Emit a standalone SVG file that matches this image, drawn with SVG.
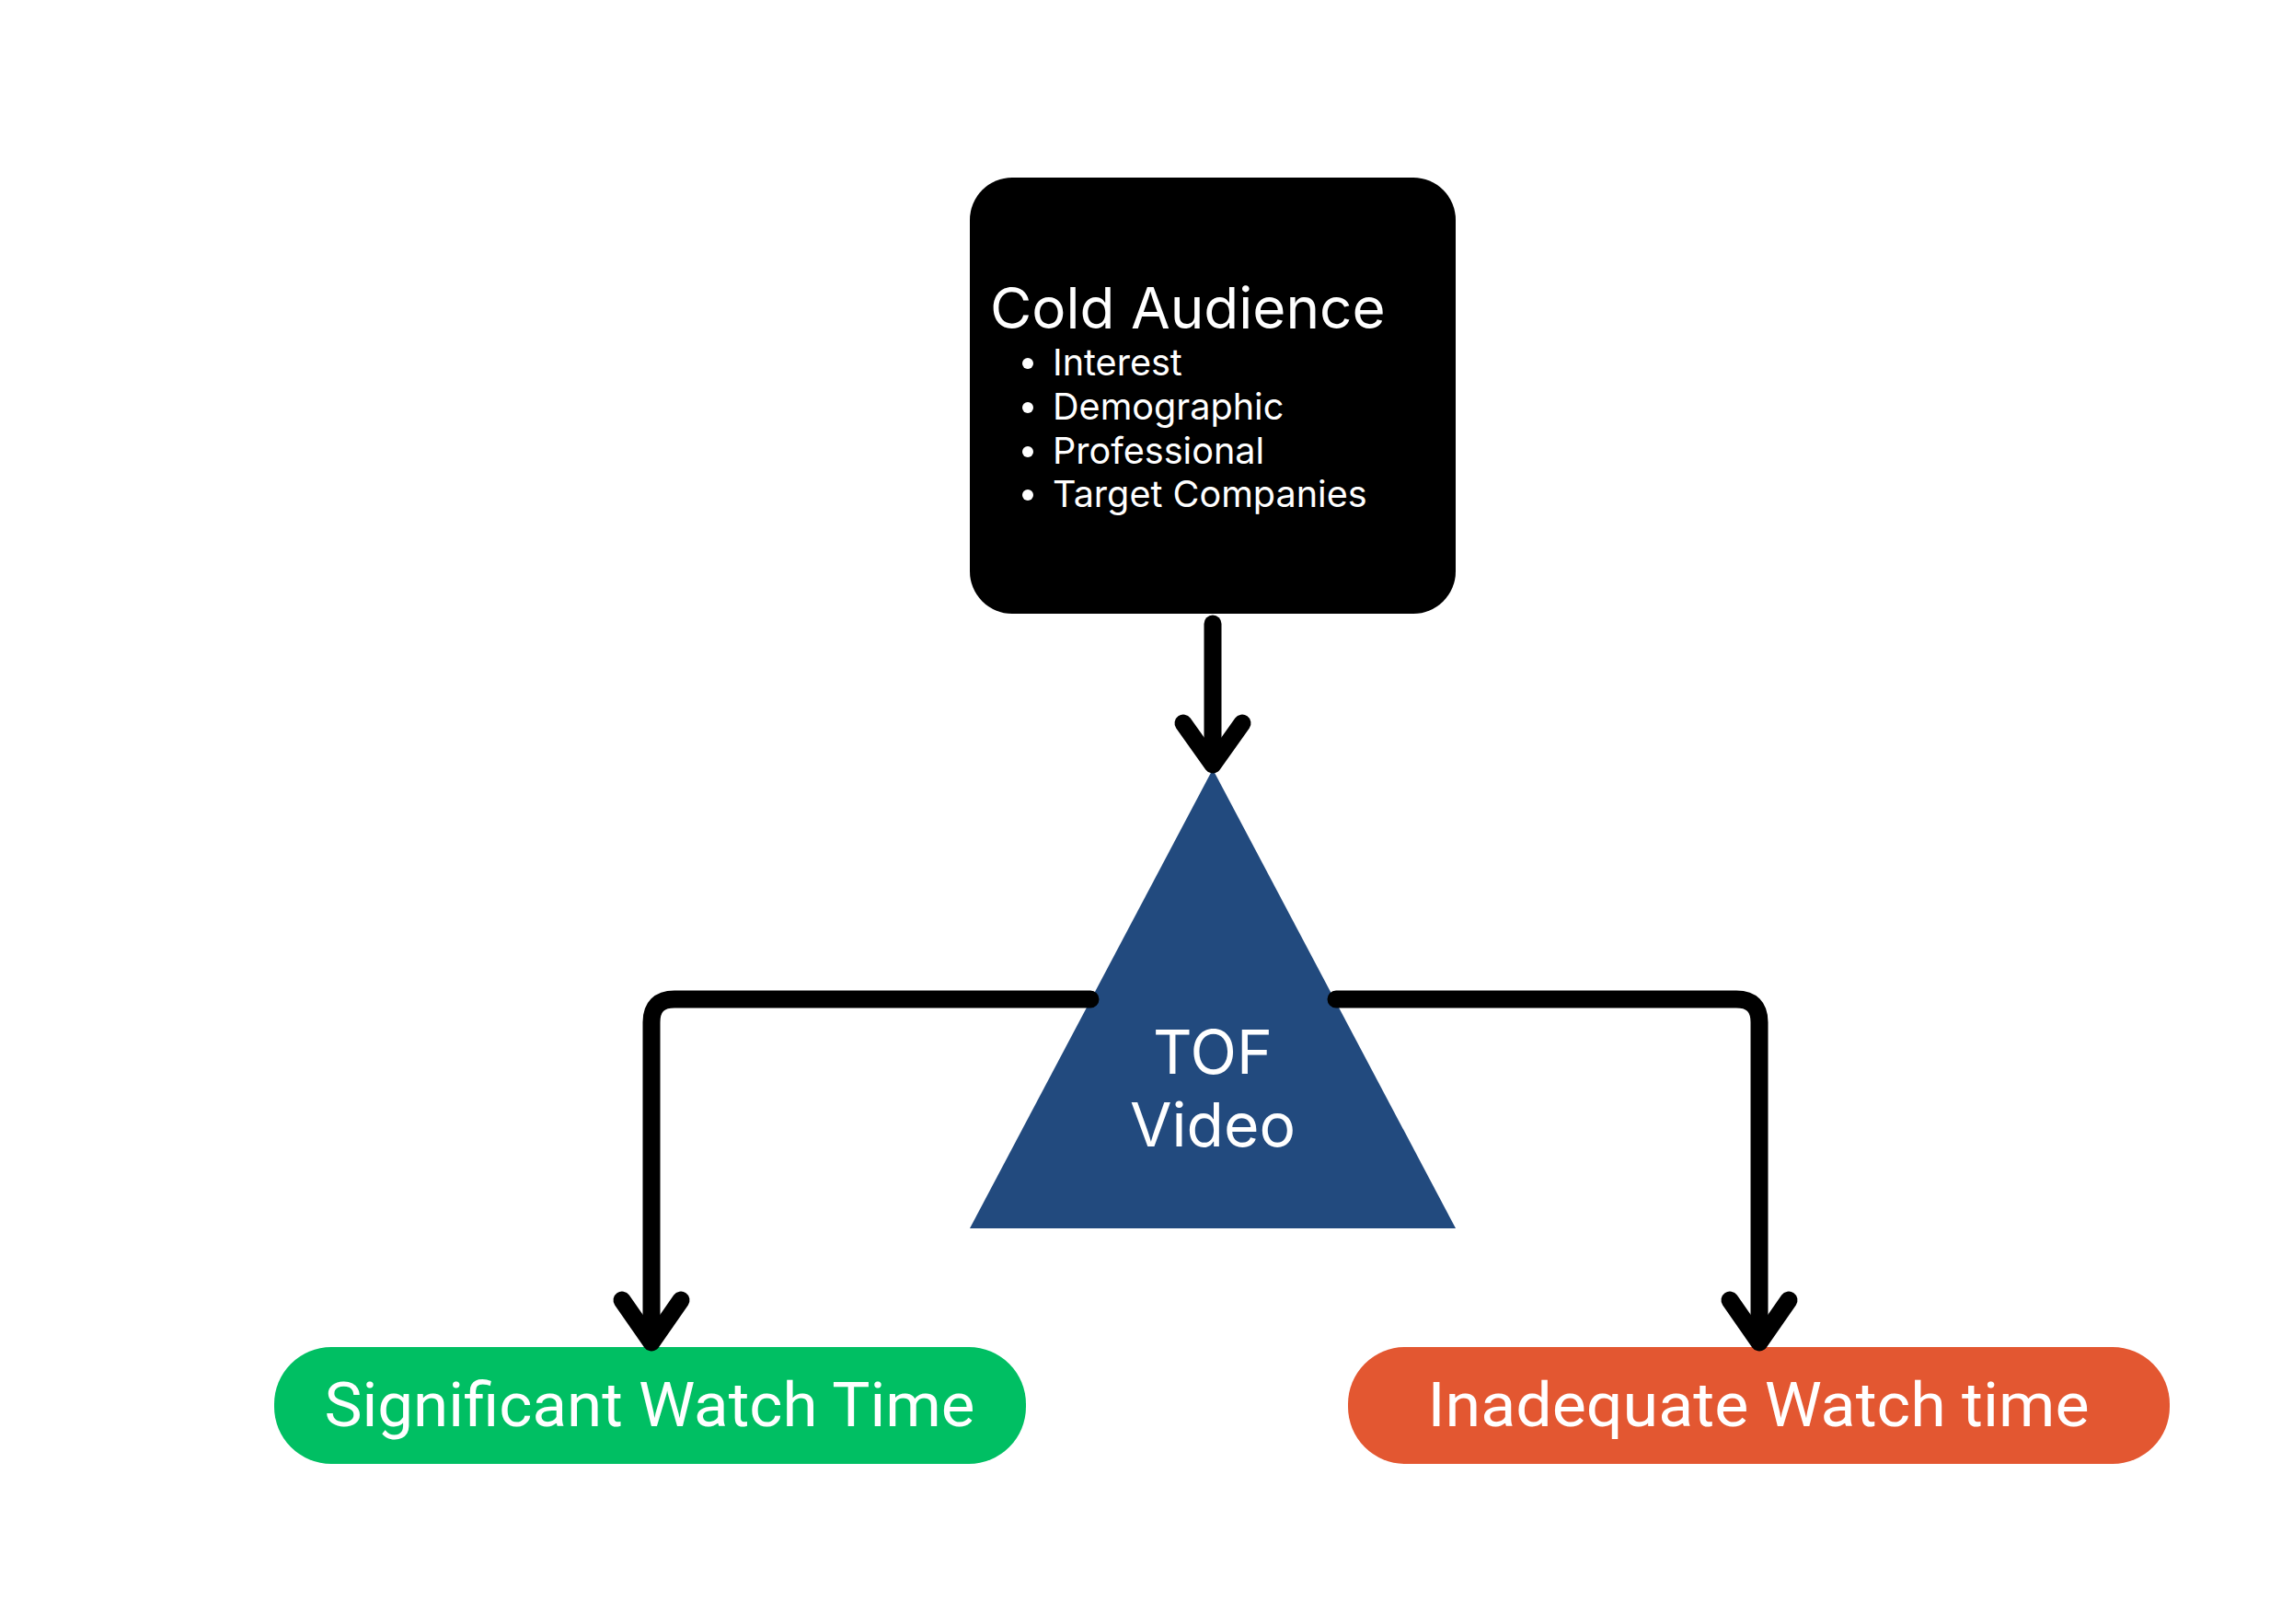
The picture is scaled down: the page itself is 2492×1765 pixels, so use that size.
<svg xmlns="http://www.w3.org/2000/svg" width="2492" height="1765" viewBox="0 0 2492 1765">
<style>
.wt{fill:#ffffff;font-family:Inter,"Liberation Sans",sans-serif}
.lbl{fill:#ffffff;font-family:Roboto,"Liberation Sans",sans-serif;font-size:67px;text-anchor:middle}
.conn{fill:none;stroke:#000000;stroke-width:19;stroke-linecap:round;stroke-linejoin:round}
</style>
<rect width="2492" height="1765" fill="#ffffff"/>
<g id="cold-audience">
<rect x="1054" y="193" width="528" height="474" rx="46" fill="#000000"/>
<text class="wt" x="1076" y="357" font-size="62">Cold Audience</text>
<g class="wt" font-size="39.6">
<circle cx="1117" cy="395" r="6" fill="#ffffff"/>
<text x="1144" y="408">Interest</text>
<circle cx="1117" cy="443" r="6" fill="#ffffff"/>
<text x="1144" y="456">Demographic</text>
<circle cx="1117" cy="491" r="6" fill="#ffffff"/>
<text x="1144" y="504">Professional</text>
<circle cx="1117" cy="538" r="6" fill="#ffffff"/>
<text x="1144" y="551">Target Companies</text>
</g>
</g>
<g id="tof-video">
<polygon points="1318,836 1582,1335 1054,1335" fill="#224A7E"/>
<text class="wt" x="1318" y="1167" font-size="66" text-anchor="middle">TOF</text>
<text class="wt" x="1318" y="1246" font-size="66" text-anchor="middle">Video</text>
</g>
<g id="significant">
<rect x="298" y="1464" width="817" height="127" rx="62" fill="#00BF63"/>
<text class="lbl" x="706" y="1550" textLength="707" lengthAdjust="spacingAndGlyphs">Significant Watch Time</text>
</g>
<g id="inadequate">
<rect x="1465" y="1464" width="893" height="127" rx="62" fill="#E35731"/>
<text class="lbl" x="1911" y="1550" textLength="719" lengthAdjust="spacingAndGlyphs">Inadequate Watch time</text>
</g>
<g id="connectors">
<path class="conn" d="M1318,678 L1318,830"/>
<path class="conn" d="M1286,786 L1318,831 L1350,786"/>
<path class="conn" d="M1185,1086 L733,1086 Q708,1086 708,1111 L708,1458"/>
<path class="conn" d="M676,1413 L708,1459 L740,1413"/>
<path class="conn" d="M1452,1086 L1887,1086 Q1912,1086 1912,1111 L1912,1458"/>
<path class="conn" d="M1880,1413 L1912,1459 L1944,1413"/>
</g>
</svg>
